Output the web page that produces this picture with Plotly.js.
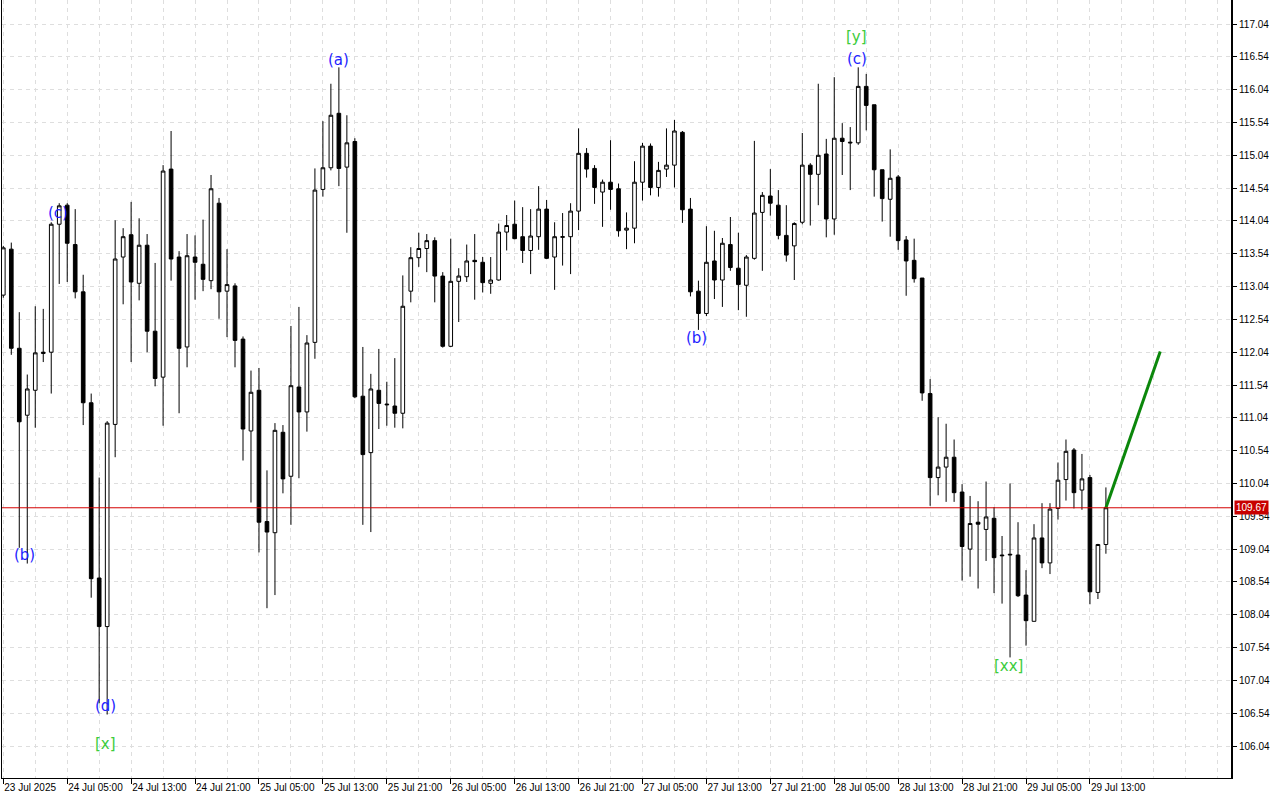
<!DOCTYPE html>
<html>
<head>
<meta charset="utf-8">
<script src="https://cdn.plot.ly/plotly-3.0.1.min.js"></script>
<style>html,body{margin:0;padding:0;background:#fff;}#chart{width:1280px;height:800px;}</style>
</head>
<body>
<div id="chart"></div>
<script>
// Hourly bars, 23 Jul 2025 21:00 .. 29 Jul 2025 15:00
const openP = [112.91,113.61,112.10,111.08,111.46,112.02,112.04,113.99,114.28,113.68,
112.96,111.27,108.60,107.86,110.94,113.49,113.83,113.09,113.67,112.36,
111.66,114.83,113.49,112.12,113.49,113.38,113.13,114.31,112.97,113.05,
112.24,110.84,111.46,109.46,109.29,110.82,110.15,111.51,111.13,112.19,
114.52,114.85,115.68,114.86,115.25,111.37,110.51,111.46,111.25,111.22,
111.11,112.97,113.48,113.62,113.74,113.20,112.13,113.12,113.19,113.44,
113.41,113.09,113.14,113.87,113.99,113.80,113.59,113.80,114.22,113.49,
113.79,113.80,114.19,115.07,114.84,114.48,114.63,114.53,113.90,113.93,
114.63,115.18,114.55,114.83,114.89,115.39,114.22,112.97,112.63,113.43,
113.14,113.68,113.32,113.06,113.47,114.17,114.42,114.28,113.82,113.66,
114.02,114.89,114.75,115.06,114.07,115.30,115.24,115.23,116.09,115.81,
114.82,114.37,114.71,113.75,113.44,113.17,111.41,110.13,110.29,110.44,
109.91,109.04,109.45,109.34,109.51,108.95,108.95,108.95,108.34,107.94,
109.21,108.83,109.66,110.10,110.55,109.94,110.13,108.38,109.11];
const highP = [113.66,113.71,112.65,111.70,112.74,112.70,114.02,114.31,114.31,114.22,
113.22,111.41,110.13,110.99,114.05,113.93,114.33,114.08,113.84,113.40,
114.89,115.41,113.58,113.84,113.82,114.06,114.74,114.39,113.61,113.09,
112.28,111.76,111.80,110.24,110.96,110.93,112.44,112.73,112.30,114.84,
115.56,116.13,116.38,115.65,115.30,112.12,111.71,112.09,111.59,111.95,
113.21,113.64,113.86,113.84,113.79,113.26,113.77,113.32,113.68,113.84,
113.49,113.49,114.00,114.13,114.35,114.25,114.22,114.57,114.36,114.02,
114.16,114.31,115.45,115.15,114.89,114.67,115.27,114.61,114.17,114.95,
115.23,115.22,114.94,115.45,115.58,115.41,114.39,113.13,113.96,113.89,
113.78,114.10,113.86,113.52,115.26,114.48,114.83,114.51,114.28,114.02,
115.38,114.92,116.13,115.29,116.23,115.53,115.47,116.38,116.28,115.81,
114.82,115.13,114.74,113.81,113.77,113.17,111.63,111.05,110.95,110.71,
110.03,109.85,109.77,110.07,109.68,109.24,110.04,109.45,108.72,109.42,
109.74,109.74,110.36,110.71,110.58,110.49,110.17,109.12,109.98];
const lowP = [112.87,112.00,109.06,108.82,110.89,111.89,111.41,113.08,113.11,112.86,
110.93,108.30,106.69,106.52,110.44,112.77,111.89,112.83,112.04,111.52,
110.92,113.13,111.11,111.81,112.84,112.97,113.00,112.55,112.27,111.81,
110.39,109.75,108.99,108.14,108.34,109.89,109.41,110.12,110.83,111.94,
114.41,114.81,114.57,113.86,111.34,109.41,109.30,110.87,110.92,110.89,
110.88,112.80,113.34,113.26,112.80,112.11,112.12,112.50,113.11,112.84,
112.95,112.93,113.13,113.59,113.76,113.40,113.23,113.60,113.46,112.99,
113.36,113.23,113.90,114.70,114.30,113.95,114.21,113.80,113.61,113.70,
114.35,114.43,114.41,114.71,114.55,114.01,112.89,112.38,112.59,112.85,
112.73,113.28,112.68,112.58,113.45,113.28,114.12,113.76,113.42,113.14,
113.99,113.97,114.28,113.79,113.83,114.74,114.51,115.20,115.42,114.41,
114.03,113.80,113.60,112.90,113.10,111.30,109.70,109.86,109.76,109.76,
108.56,108.62,108.44,108.86,108.37,108.21,107.39,108.31,107.57,107.94,
108.75,108.66,109.49,109.78,109.66,109.64,108.20,108.28,108.97];
const closeP = [113.63,112.10,110.98,111.48,112.03,112.04,113.99,114.27,113.70,112.96,
111.27,108.59,107.86,110.96,113.46,113.80,113.11,113.67,112.36,111.64,
114.80,113.46,112.10,113.51,113.41,113.15,114.53,112.96,113.07,112.22,
110.87,111.43,109.45,109.30,110.85,110.11,111.53,111.13,112.18,114.51,
114.85,115.65,114.84,115.23,111.36,110.48,111.48,111.26,111.24,111.11,
112.74,113.48,113.62,113.74,113.20,112.13,113.12,113.20,113.43,113.42,
113.10,113.14,113.87,113.97,113.77,113.59,113.81,114.22,113.47,113.80,
113.80,114.19,115.07,114.83,114.55,114.63,114.52,113.89,113.93,114.63,
115.18,114.55,114.81,114.89,115.41,114.21,112.96,112.63,113.41,113.14,
113.70,113.33,113.07,113.49,114.16,114.43,114.31,113.82,113.52,114.00,
114.89,114.75,115.04,114.07,115.30,115.25,115.23,116.09,115.80,114.82,
114.38,114.69,113.74,113.43,113.16,111.42,110.13,110.29,110.44,109.90,
109.08,109.43,109.42,109.53,108.91,108.94,108.96,108.33,107.95,109.21,
108.83,109.65,110.09,110.53,109.90,110.11,108.39,109.11,109.67];

const timeTickLabels = ["23 Jul 2025","24 Jul 05:00","24 Jul 13:00","24 Jul 21:00","25 Jul 05:00",
"25 Jul 13:00","25 Jul 21:00","26 Jul 05:00","26 Jul 13:00","26 Jul 21:00","27 Jul 05:00",
"27 Jul 13:00","27 Jul 21:00","28 Jul 05:00","28 Jul 13:00","28 Jul 21:00","29 Jul 05:00","29 Jul 13:00"];
const timeTickBars = [0,8,16,24,32,40,48,56,64,72,80,88,96,104,112,120,128,136];

const priceTicks = [106.04,106.54,107.04,107.54,108.04,108.54,109.04,109.54,110.04,110.54,
111.04,111.54,112.04,112.54,113.04,113.54,114.04,114.54,115.04,115.54,116.04,116.54,117.04];

const currentPrice = 109.67;

// projection line (bar index, price)
const projBars = [138, 144.8];
const projPrices = [109.67, 112.05];

// wave labels: [bar, price, text, kind]
const waveLabels = [
  [42, 116.49, "(a)", "minor"],
  [2.7, 108.95, "(b)", "minor"],
  [6.85, 114.16, "(c)", "minor"],
  [12.8, 106.65, "(d)", "minor"],
  [12.8, 106.07, "[x]", "major"],
  [86.7, 112.26, "(b)", "minor"],
  [106.8, 116.51, "(c)", "minor"],
  [106.8, 116.84, "[y]", "major"],
  [125.8, 107.26, "[xx]", "major"]
];

const bars = openP.map((_, i) => i);
const gridCol = '#dedede';
const axisFont = {family: 'Liberation Sans, Arial, sans-serif', size: 10, color: '#000'};

const traces = [
  {
    type: 'candlestick',
    x: bars, open: openP, high: highP, low: lowP, close: closeP,
    increasing: {line: {color: '#000', width: 1}, fillcolor: '#ffffff'},
    decreasing: {line: {color: '#000', width: 1}, fillcolor: '#000000'},
    whiskerwidth: 0,
    hoverinfo: 'skip',
    showlegend: false
  },
  {
    type: 'scatter', mode: 'lines',
    x: projBars, y: projPrices,
    line: {color: '#0b870b', width: 3},
    hoverinfo: 'skip', showlegend: false
  }
];

const annotations = waveLabels.map(l => ({
  x: l[0], y: l[1], xref: 'x', yref: 'y', text: l[2], showarrow: false,
  font: {family: 'DejaVu Sans, sans-serif', size: 15, color: l[3] === 'major' ? '#3ccc3c' : '#1e1eff'},
  xanchor: 'center', yanchor: 'middle'
}));
annotations.push({
  x: 1, xref: 'paper', y: currentPrice, yref: 'y', text: currentPrice.toFixed(2),
  showarrow: false, xanchor: 'left', yanchor: 'middle', xshift: 2,
  bgcolor: '#c80000', borderpad: 1,
  font: {family: 'Liberation Sans, Arial, sans-serif', size: 10, color: '#ffffff'}
});

const layout = {
  width: 1280, height: 800,
  margin: {l: 2, r: 48, t: 0, b: 22, pad: 0},
  paper_bgcolor: '#ffffff', plot_bgcolor: '#ffffff',
  showlegend: false,
  boxgap: 0.35,
  xaxis: {
    range: [-0.163, 153.78],
    tickmode: 'array', tickvals: timeTickBars, ticktext: timeTickLabels,
    ticks: 'outside', ticklen: 5, tickcolor: '#000', tickwidth: 1,
    ticklabelposition: 'outside right',
    tickangle: 0, automargin: false,
    tickfont: axisFont,
    showgrid: true, gridcolor: gridCol, griddash: '4px,4px', gridwidth: 1,
    minor: {tickmode: 'linear', tick0: 0, dtick: 4, showgrid: true, gridcolor: gridCol, griddash: '4px,4px', ticks: ''},
    showline: true, linecolor: '#000', linewidth: 1, mirror: true,
    zeroline: false,
    rangeslider: {visible: false},
    fixedrange: true
  },
  yaxis: {
    side: 'right',
    range: [105.553, 117.406],
    tickmode: 'array', tickvals: priceTicks, ticktext: priceTicks.map(v => v.toFixed(2)),
    ticks: 'outside', ticklen: 4, tickcolor: '#000',
    tickfont: axisFont, automargin: false,
    showgrid: true, gridcolor: gridCol, griddash: '4px,4px', gridwidth: 1,
    showline: true, linecolor: '#000', linewidth: 1, mirror: true,
    zeroline: false, fixedrange: true
  },
  shapes: [
    {type: 'line', xref: 'paper', yref: 'y', x0: 0, x1: 1, y0: currentPrice, y1: currentPrice,
     line: {color: '#d40000', width: 1}},
    {type: 'line', xref: 'paper', yref: 'paper', x0: 1, x1: 1, y0: 0, y1: 1,
     line: {color: '#000', width: 2}}
  ],
  annotations: annotations
};

Plotly.newPlot('chart', traces, layout, {displayModeBar: false, staticPlot: true});
</script>
</body>
</html>
